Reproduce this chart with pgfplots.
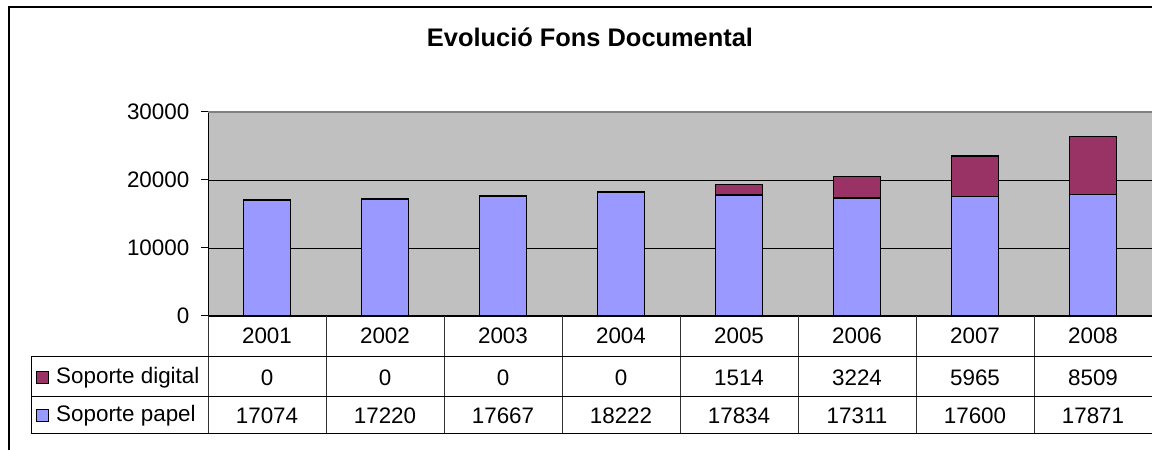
\documentclass[border=0pt]{standalone}
\usepackage{pgfplots}
\pgfplotsset{compat=1.18}
\usepackage{fontspec}
\setmainfont{Liberation Sans}
\definecolor{papel}{HTML}{9999FF}
\definecolor{digital}{HTML}{993366}
\definecolor{plotbg}{HTML}{C0C0C0}
\begin{document}
\fontsize{22.4}{26}\selectfont
\begin{tikzpicture}
\useasboundingbox (0pt,0pt) rectangle (1152pt,450pt);
% outer chart border
\draw[black, line width=1.5pt] (9pt,0pt) -- (9pt,443pt) -- (1160pt,443pt);
% title
\node[anchor=base, font=\fontsize{25.4}{30}\selectfont\bfseries] at (590pt,403pt) {Evolució Fons Documental};
\begin{axis}[
  at={(208pt,134pt)}, anchor=south west,
  scale only axis, width=944pt, height=204pt,
  xmin=-0.5, xmax=7.5, ymin=0, ymax=30000,
  ybar stacked, bar width=47pt,
  axis lines=left, axis line style={-, black, line width=1pt},
  xtick=\empty, ytick={0,10000,20000,30000},
  scaled y ticks=false,
  ymajorgrids, grid style={black, line width=0.9pt},
  axis background/.style={fill=plotbg},
  tick align=outside, major tick length=7pt,
  tick style={black, line width=1pt},
  yticklabel style={font=\fontsize{22.4}{26}\selectfont, xshift=-4pt},
  /pgf/number format/1000 sep={},
  /pgf/number format/assume math mode=true,
  clip=false,
]
\addplot+[fill=papel, draw=black, line width=1.6pt] coordinates {
  (0,17074) (1,17220) (2,17667) (3,18222) (4,17834) (5,17311) (6,17600) (7,17871)};
\addplot+[fill=digital, draw=black, line width=1.6pt] coordinates {
  (0,0) (1,0) (2,0) (3,0) (4,1514) (5,3224) (6,5965) (7,8509)};
\end{axis}
% top border of plot area
\draw[black!50, line width=1.2pt] (208pt,338pt) -- (1160pt,338pt);
% data table lines
\foreach \k in {0,...,7} {
  \pgfmathsetmacro{\xx}{208+118*\k}
  \draw[black!80, line width=1pt] (\xx pt,134pt) -- (\xx pt,16pt);
}
\draw[black, line width=1pt] (31pt,93pt) -- (1160pt,93pt);
\draw[black, line width=1pt] (31pt,53pt) -- (1160pt,53pt);
\draw[black, line width=1pt] (31pt,16pt) -- (1160pt,16pt);
\draw[black, line width=1pt] (31pt,93pt) -- (31pt,16pt);
% table text
\foreach \yr [count=\i from 0] in {2001,2002,2003,2004,2005,2006,2007,2008} {
  \pgfmathsetmacro{\xx}{267+118*\i}
  \node[anchor=center] at (\xx pt,114pt) {\yr};
}
\foreach \v [count=\i from 0] in {0,0,0,0,1514,3224,5965,8509} {
  \pgfmathsetmacro{\xx}{267+118*\i}
  \node[anchor=center] at (\xx pt,72pt) {\v};
}
\foreach \v [count=\i from 0] in {17074,17220,17667,18222,17834,17311,17600,17871} {
  \pgfmathsetmacro{\xx}{267+118*\i}
  \node[anchor=center] at (\xx pt,34pt) {\v};
}
% legend keys
\draw[black, line width=1pt, fill=digital] (36pt,66pt) rectangle (48pt,78pt);
\draw[black, line width=1pt, fill=papel] (36pt,28pt) rectangle (48pt,40pt);
\node[anchor=west, inner sep=0pt] at (56pt,72pt) {Soporte digital};
\node[anchor=west, inner sep=0pt] at (56pt,34pt) {Soporte papel};
\end{tikzpicture}
\end{document}
